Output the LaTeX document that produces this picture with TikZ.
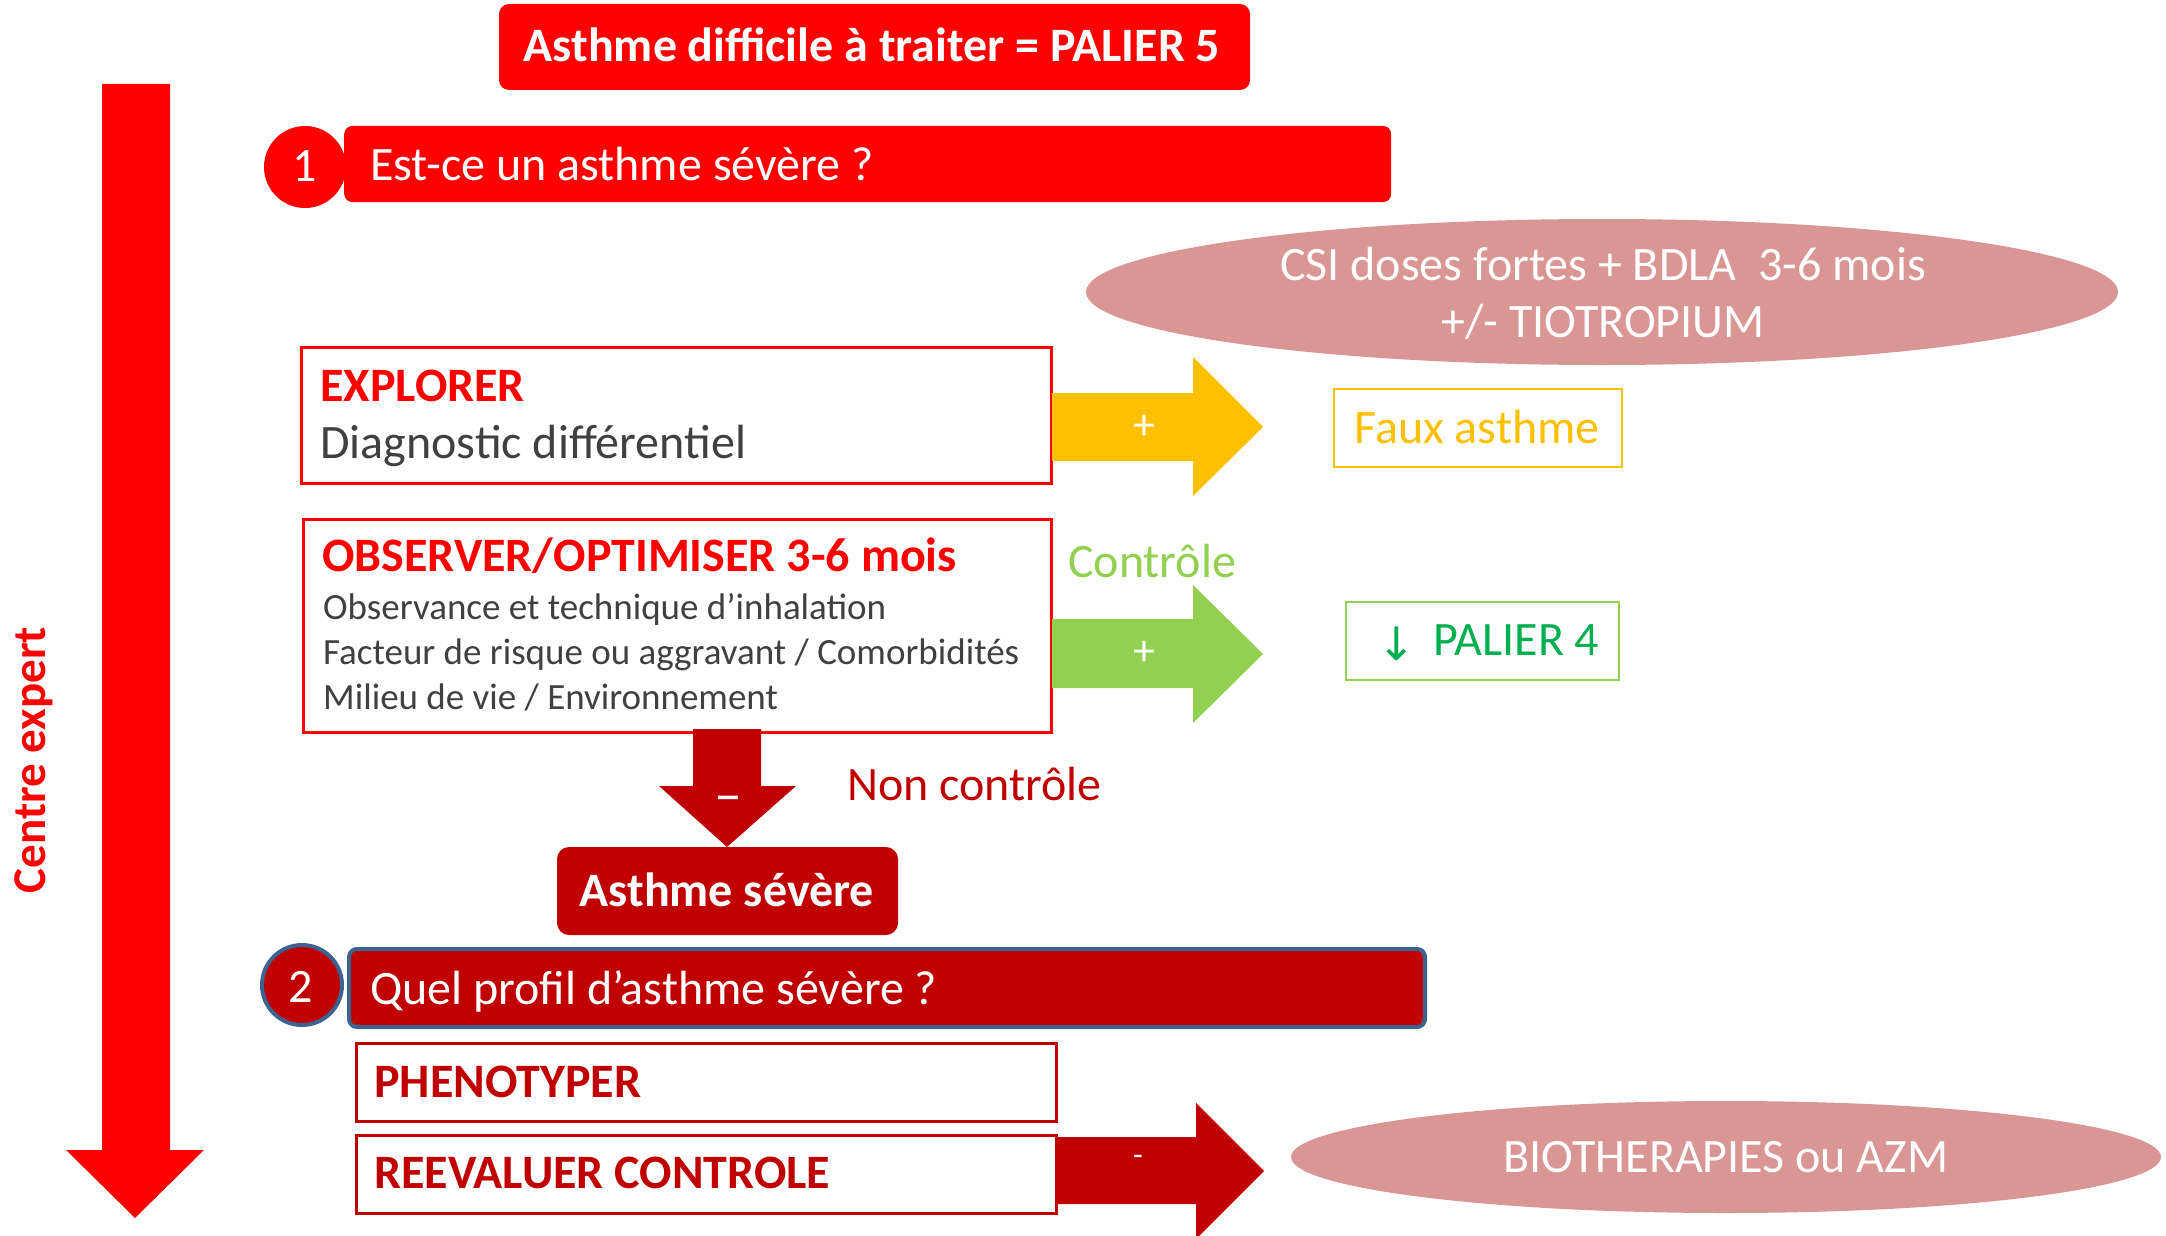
\documentclass[tikz,border=0pt]{standalone}
\usepackage{fontspec}
\setmainfont{Carlito}
\newfontfamily\symfont{DejaVu Sans}
\usetikzlibrary{calc,shapes.geometric}
\definecolor{cred}{HTML}{FF0000}
\definecolor{dred}{HTML}{C00000}
\definecolor{pinkc}{HTML}{D99694}
\definecolor{yel}{HTML}{FFC000}
\definecolor{lgreen}{HTML}{92D050}
\definecolor{dgreen}{HTML}{00B050}
\definecolor{gtext}{HTML}{404040}
\definecolor{bblue}{HTML}{3E6291}
\newcommand{\fsz}[2]{\fontsize{#1}{#2}\selectfont}
\begin{document}
\begin{tikzpicture}[x=1pt,y=-1pt,
  big/.style={font=\fsz{48}{57}},
  bigb/.style={font=\fsz{48}{57}\bfseries},
  small/.style={font=\fsz{37}{44}, text=gtext},
  txt/.style={inner sep=0pt, anchor=base west},
  txtc/.style={inner sep=0pt, anchor=base},
  framebox/.style={draw=cred, line width=2.5pt, fill=white},
  frameboxd/.style={draw=dred, line width=2.5pt, fill=white}
]
\useasboundingbox (0,0) rectangle (2166,1236);
\fill[white] (0,0) rectangle (2166,1236);

% left vertical arrow
\fill[cred] (102,84) -- (170,84) -- (170,1150) -- (204,1150) -- (135,1218) -- (66,1150) -- (102,1150) -- cycle;
\node[text=cred, rotate=90, txtc, font=\fsz{47}{55}\bfseries] (centre) at (45,760) {Centre expert};

% title
\node[fill=cred, rounded corners=10pt, minimum width=751pt, minimum height=86pt, inner sep=0pt] (title) at (874.5,47) {};
\node[bigb, text=white, txtc] (titletxt) at (872,62) {Asthme difficile à traiter = PALIER 5};

% step 1
\node[fill=cred, rounded corners=8pt, minimum width=1047pt, minimum height=76pt, inner sep=0pt, anchor=west] (bar1) at (344,164) {};
\node[circle, fill=cred, minimum size=82pt, inner sep=0pt] (c1) at (305,167) {};
\node[big, text=white, txtc] (c1txt) at (305,182) {1};
\node[big, text=white, txt] (bar1txt) at (370,180) {Est-ce un asthme sévère ?};

% ellipse 1
\node[ellipse, fill=pinkc, minimum width=1032pt, minimum height=146pt, inner sep=0pt] (ell1) at (1602,292) {};
\node[big, text=white, txtc] (ell1a) at (1603,280) {CSI doses fortes + BDLA~~3-6 mois};
\node[big, text=white, txtc] (ell1b) at (1603,337) {+/- TIOTROPIUM};

% explorer box
\node[framebox, minimum width=750pt, minimum height=136pt, inner sep=0pt, anchor=north west] (explorer) at (300,346) {};
\node[bigb, text=cred, txt] (exp1) at (320,401) {EXPLORER};
\node[big, text=gtext, txt] (exp2) at (320,458) {Diagnostic différentiel};

% observer box
\node[framebox, minimum width=748pt, minimum height=213pt, inner sep=0pt, anchor=north west] (observer) at (302,518) {};
\node[bigb, text=cred, txt] (obs1) at (322,571) {OBSERVER/OPTIMISER 3-6 mois};
\node[small, txt] (obs2) at (323,619) {Observance et technique d’inhalation};
\node[small, txt] (obs3) at (323,664) {Facteur de risque ou aggravant / Comorbidités};
\node[small, txt] (obs4) at (323,709) {Milieu de vie / Environnement};

% yellow arrow
\fill[yel] (1052,393) -- (1193,393) -- (1193,357) -- (1263,427) -- (1193,496) -- (1193,461) -- (1052,461) -- cycle;
\node[font=\fsz{44}{50}, text=white, inner sep=0pt] (yplus) at (1144,427) {+};

% faux asthme
\node[draw=yel, line width=2pt, minimum width=288pt, minimum height=78pt, inner sep=0pt, anchor=north west] (faux) at (1333,388) {};
\node[big, text=yel, txtc] (fauxtxt) at (1477,443) {Faux asthme};

% controle
\node[big, text=lgreen, txt] (ctrl) at (1068,577) {Contrôle};

% green arrow
\fill[lgreen] (1052,619) -- (1193,619) -- (1193,585) -- (1263,654) -- (1193,723) -- (1193,688) -- (1052,688) -- cycle;
\node[font=\fsz{44}{50}, text=white, inner sep=0pt] (gplus) at (1144,653) {+};

% palier 4
\node[draw=lgreen, line width=2pt, minimum width=273pt, minimum height=78pt, inner sep=0pt, anchor=north west] (pal4) at (1345,601) {};
\node[font=\fsz{46}{52}\symfont, text=dgreen, txt] (pal4arr) at (1377,660) {↓};
\node[big, text=dgreen, txt] (pal4txt) at (1433,655) {PALIER 4};

% down arrow
\fill[dred] (693,729) -- (761,729) -- (761,786) -- (796,786) -- (727,847) -- (659,786) -- (693,786) -- cycle;
\node[font=\fsz{56}{60}, text=white, inner sep=0pt] (dminus) at (728,805) {–};
\node[big, text=dred, txt] (nonctrl) at (847,800) {Non contrôle};

% asthme severe
\node[fill=dred, rounded corners=12pt, minimum width=341pt, minimum height=88pt, inner sep=0pt] (sev) at (727.5,891) {};
\node[bigb, text=white, txtc] (sevtxt) at (727,906) {Asthme sévère};

% step 2
\node[circle, fill=dred, draw=bblue, line width=4pt, minimum size=80pt, inner sep=0pt] (c2) at (302,985) {};
\node[fill=dred, draw=bblue, line width=4pt, rounded corners=8pt, minimum width=1076pt, minimum height=78pt, inner sep=0pt, anchor=west] (bar2) at (347,988) {};
\node[big, text=white, txtc] (c2txt) at (301,1002) {2};
\node[big, text=white, txt] (bar2txt) at (370,1004) {Quel profil d’asthme sévère ?};

% phenotyper / reevaluer
\node[frameboxd, minimum width=700pt, minimum height=78pt, inner sep=0pt, anchor=north west] (pheno) at (355,1042) {};
\node[bigb, text=dred, txt] (phenotxt) at (374,1097) {PHENOTYPER};
\node[frameboxd, minimum width=700pt, minimum height=78pt, inner sep=0pt, anchor=north west] (reev) at (355,1134) {};
\node[bigb, text=dred, txt] (reevtxt) at (374,1188) {REEVALUER CONTROLE};

% right dark arrow
\fill[dred] (1057,1137) -- (1196,1137) -- (1196,1103) -- (1264,1171) -- (1196,1239) -- (1196,1204) -- (1057,1204) -- cycle;
\node[font=\fsz{32}{36}, text=white, inner sep=0pt] (rminus) at (1138,1160) {-};

% ellipse 2
\node[ellipse, fill=pinkc, minimum width=870pt, minimum height=112pt, inner sep=0pt] (ell2) at (1726,1157) {};
\node[big, text=white, txtc] (ell2txt) at (1726,1172) {BIOTHERAPIES ou AZM};
\end{tikzpicture}
\end{document}
